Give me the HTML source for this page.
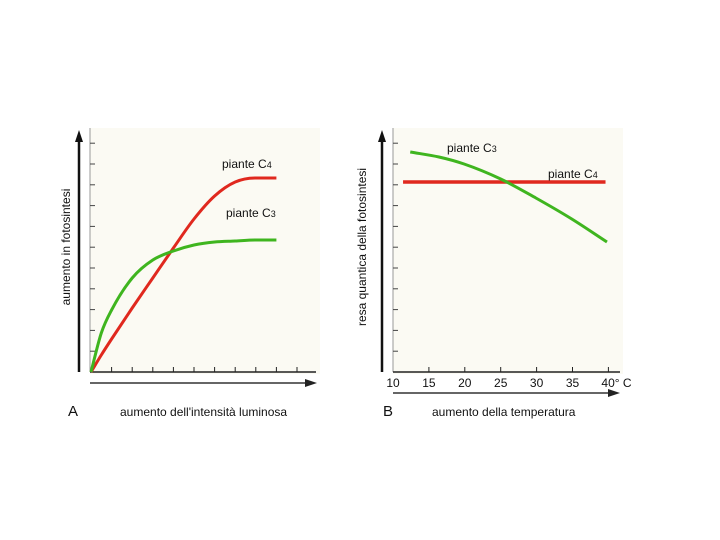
<!DOCTYPE html>
<html><head><meta charset="utf-8"><style>
html,body{margin:0;padding:0;background:#fff;}
svg{display:block;font-family:"Liberation Sans",sans-serif;}
</style></head><body>
<svg id="s" width="720" height="540" viewBox="0 0 720 540">
<rect x="90" y="128" width="230" height="246" fill="#fbfaf3"/>
<rect x="393" y="128" width="230" height="246" fill="#fbfaf3"/>
<g id="ga"></g><g id="gb"></g>
</svg>
<script>
// Panel A data
const aX = [0,0.5,1,2,3,4,5,6,7,8,9];
const aC4 = [0,17,33,64,94,124,153,176,190,194,194];
const aC3 = [0,39,62,94,112,121,127,130,131,132,132];
// Panel B data
const bTempTicks = [10,15,20,25,30,35,40];
const bTickLabels = ["10","15","20","25","30","35","40° C"];
const bTemps = [12.4,16.4,19.9,25,29.9,34.9,39.8];
const bC3 = [220,215,208,193,174,153,130];
const bC4Temps = [11.4,39.6];
const bC4 = [190,190];

const NS="http://www.w3.org/2000/svg";
function mk(p,t,a,txt){const e=document.createElementNS(NS,t);for(const k in a)e.setAttribute(k,a[k]);if(txt!==undefined)e.textContent=txt;p.appendChild(e);return e;}
// monotone cubic (Fritsch-Carlson) path
function smooth(xs,ys){const n=xs.length,d=[],m=[];for(let i=0;i<n-1;i++)d.push((ys[i+1]-ys[i])/(xs[i+1]-xs[i]));
m[0]=d[0];m[n-1]=d[n-2];for(let i=1;i<n-1;i++){m[i]=(d[i-1]*d[i]<=0)?0:(d[i-1]+d[i])/2;}
for(let i=0;i<n-1;i++){if(d[i]===0){m[i]=0;m[i+1]=0;continue;}const a=m[i]/d[i],b=m[i+1]/d[i],s=a*a+b*b;if(s>9){const t=3/Math.sqrt(s);m[i]=t*a*d[i];m[i+1]=t*b*d[i];}}
let p='M'+xs[0]+','+ys[0];for(let i=0;i<n-1;i++){const h=(xs[i+1]-xs[i])/3;p+=' C'+(xs[i]+h)+','+(ys[i]+m[i]*h)+' '+(xs[i+1]-h)+','+(ys[i+1]-m[i+1]*h)+' '+xs[i+1]+','+ys[i+1];}return p;}
const base=372;
// ---- Panel A
const ga=document.getElementById('ga');
const axA=v=>91+v*20.6, ayA=v=>base-v;
let e;
e=mk(ga,'line',{x1:90,y1:128,x2:90,y2:base,stroke:'#999','stroke-width':1});

e=mk(ga,'line',{x1:90,y1:base,x2:316,y2:base,stroke:'#222','stroke-width':1.5});

for(let i=1;i<=11;i++){const y=base-i*20.8;e=mk(ga,'line',{x1:90,y1:y,x2:95,y2:y,stroke:'#444','stroke-width':1});
}
for(let i=1;i<=10;i++){const x=axA(i);e=mk(ga,'line',{x1:x,y1:base,x2:x,y2:base-5,stroke:'#222','stroke-width':1});
}
e=mk(ga,'path',{d:'M79,372 L79,140',stroke:'#111','stroke-width':2.5,fill:'none'});

e=mk(ga,'path',{d:'M79,130 L75,142 L83,142 Z',fill:'#111'});

e=mk(ga,'path',{d:'M90,383 L308,383',stroke:'#333','stroke-width':1.5,fill:'none'});

e=mk(ga,'path',{d:'M317,383 L305,379 L305,387 Z',fill:'#222'});

e=mk(ga,'path',{d:smooth(aX.map(axA),aC4.map(ayA)),stroke:'#e0281e','stroke-width':3,fill:'none'});

e=mk(ga,'path',{d:smooth(aX.map(axA),aC3.map(ayA)),stroke:'#3fb51f','stroke-width':3,fill:'none'});

e=mk(ga,'text',{x:222,y:168,'font-size':12,fill:'#111'},'piante C');mk(e,'tspan',{'font-size':9},'4');

e=mk(ga,'text',{x:226,y:217,'font-size':12,fill:'#111'},'piante C');mk(e,'tspan',{'font-size':9},'3');

e=mk(ga,'text',{x:0,y:0,'font-size':12,fill:'#111','text-anchor':'middle',transform:'translate(70,247) rotate(-90)'},'aumento in fotosintesi');

e=mk(ga,'text',{x:68,y:416,'font-size':15,fill:'#111'},'A');

e=mk(ga,'text',{x:120,y:416,'font-size':12,fill:'#111'},"aumento dell'intensità luminosa");

// ---- Panel B
const gb=document.getElementById('gb');
const bx=t=>393+(t-10)*7.18, by=v=>base-v;
e=mk(gb,'line',{x1:393,y1:128,x2:393,y2:base,stroke:'#999','stroke-width':1});

e=mk(gb,'line',{x1:393,y1:base,x2:620,y2:base,stroke:'#222','stroke-width':1.5});

for(let i=1;i<=11;i++){const y=base-i*20.8;e=mk(gb,'line',{x1:393,y1:y,x2:398,y2:y,stroke:'#444','stroke-width':1});
}
bTempTicks.forEach((t,i)=>{const x=bx(t);
if(i>0){e=mk(gb,'line',{x1:x,y1:base,x2:x,y2:base-5,stroke:'#222','stroke-width':1});
}
e=mk(gb,'text',{x:i===6?x-7:x,y:387,'font-size':12,fill:'#111','text-anchor':i===6?'start':'middle'},bTickLabels[i]);
});
e=mk(gb,'path',{d:'M382,372 L382,140',stroke:'#111','stroke-width':2.5,fill:'none'});

e=mk(gb,'path',{d:'M382,130 L378,142 L386,142 Z',fill:'#111'});

e=mk(gb,'path',{d:'M393,393 L612,393',stroke:'#333','stroke-width':1.5,fill:'none'});

e=mk(gb,'path',{d:'M620,393 L608,389 L608,397 Z',fill:'#222'});

e=mk(gb,'path',{d:'M'+bx(bC4Temps[0])+','+by(bC4[0])+' L'+bx(bC4Temps[1])+','+by(bC4[1]),stroke:'#e0281e','stroke-width':3.5,fill:'none'});

e=mk(gb,'path',{d:smooth(bTemps.map(bx),bC3.map(by)),stroke:'#3fb51f','stroke-width':3,fill:'none'});

e=mk(gb,'text',{x:447,y:152,'font-size':12,fill:'#111'},'piante C');mk(e,'tspan',{'font-size':9},'3');

e=mk(gb,'text',{x:548,y:178,'font-size':12,fill:'#111'},'piante C');mk(e,'tspan',{'font-size':9},'4');

e=mk(gb,'text',{x:0,y:0,'font-size':12,fill:'#111','text-anchor':'middle',transform:'translate(366,247) rotate(-90)'},'resa quantica della fotosintesi');

e=mk(gb,'text',{x:383,y:416,'font-size':15,fill:'#111'},'B');

e=mk(gb,'text',{x:432,y:416,'font-size':12,fill:'#111'},'aumento della temperatura');

</script>
</body></html>
